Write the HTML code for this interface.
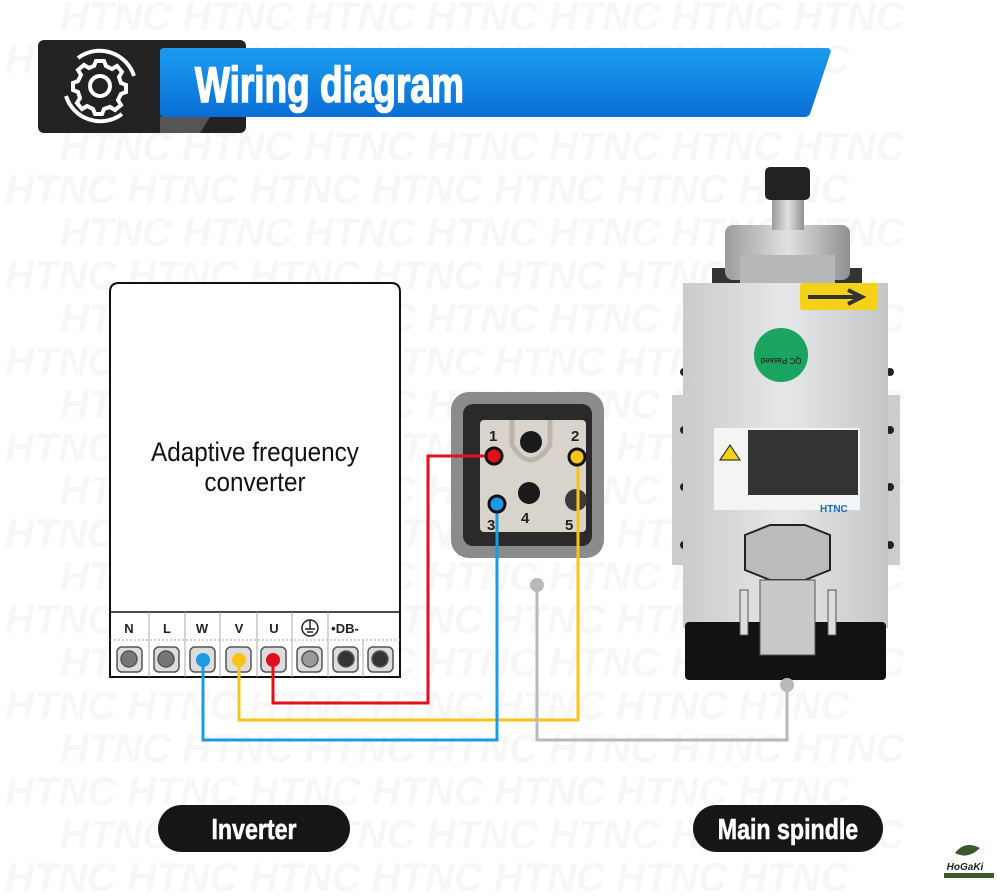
<!DOCTYPE html>
<html><head><meta charset="utf-8"><style>
html,body{margin:0;padding:0;background:#fff;}
svg{display:block;}
</style></head><body>
<svg width="1000" height="896" viewBox="0 0 1000 896" xmlns="http://www.w3.org/2000/svg" font-family="Liberation Sans, sans-serif">
<rect width="1000" height="896" fill="#fff"/>
<!-- watermark -->
<g fill="#f7f7f7" font-size="40" font-weight="bold" font-style="italic">
<text x="60" y="30">HTNC  HTNC  HTNC  HTNC  HTNC  HTNC  HTNC</text>
<text x="5" y="73">HTNC  HTNC  HTNC  HTNC  HTNC  HTNC  HTNC</text>
<text x="60" y="160">HTNC  HTNC  HTNC  HTNC  HTNC  HTNC  HTNC</text>
<text x="5" y="203">HTNC  HTNC  HTNC  HTNC  HTNC  HTNC  HTNC</text>
<text x="60" y="246">HTNC  HTNC  HTNC  HTNC  HTNC  HTNC  HTNC</text>
<text x="5" y="289">HTNC  HTNC  HTNC  HTNC  HTNC  HTNC  HTNC</text>
<text x="60" y="332">HTNC  HTNC  HTNC  HTNC  HTNC  HTNC  HTNC</text>
<text x="5" y="375">HTNC  HTNC  HTNC  HTNC  HTNC  HTNC  HTNC</text>
<text x="60" y="418">HTNC  HTNC  HTNC  HTNC  HTNC  HTNC  HTNC</text>
<text x="5" y="461">HTNC  HTNC  HTNC  HTNC  HTNC  HTNC  HTNC</text>
<text x="60" y="504">HTNC  HTNC  HTNC  HTNC  HTNC  HTNC  HTNC</text>
<text x="5" y="547">HTNC  HTNC  HTNC  HTNC  HTNC  HTNC  HTNC</text>
<text x="60" y="590">HTNC  HTNC  HTNC  HTNC  HTNC  HTNC  HTNC</text>
<text x="5" y="633">HTNC  HTNC  HTNC  HTNC  HTNC  HTNC  HTNC</text>
<text x="60" y="676">HTNC  HTNC  HTNC  HTNC  HTNC  HTNC  HTNC</text>
<text x="5" y="719">HTNC  HTNC  HTNC  HTNC  HTNC  HTNC  HTNC</text>
<text x="60" y="762">HTNC  HTNC  HTNC  HTNC  HTNC  HTNC  HTNC</text>
<text x="5" y="805">HTNC  HTNC  HTNC  HTNC  HTNC  HTNC  HTNC</text>
<text x="60" y="848">HTNC  HTNC  HTNC  HTNC  HTNC  HTNC  HTNC</text>
<text x="5" y="891">HTNC  HTNC  HTNC  HTNC  HTNC  HTNC  HTNC</text>
</g>

<defs>
<linearGradient id="bl" x1="0" y1="0" x2="0" y2="1">
<stop offset="0" stop-color="#1a9cf0"/><stop offset="1" stop-color="#0a6fd6"/></linearGradient>
<linearGradient id="sp" x1="0" y1="0" x2="1" y2="0">
<stop offset="0" stop-color="#c9cbcd"/><stop offset="0.5" stop-color="#e6e7e8"/><stop offset="1" stop-color="#c4c6c8"/></linearGradient>
<linearGradient id="cy" x1="0" y1="0" x2="1" y2="0">
<stop offset="0" stop-color="#9a9c9e"/><stop offset="0.5" stop-color="#e0e1e2"/><stop offset="1" stop-color="#8e9092"/></linearGradient>
</defs>
<!-- header -->
<rect x="38" y="40" width="208" height="93" rx="6" fill="#222"/>
<polygon points="160,117 210,117 200,133 160,133" fill="#555"/>
<path d="M164,48 L828,48 Q832,49 830,54 L810,114 Q808,117 804,117 L164,117 Q160,117 160,113 L160,52 Q160,48 164,48Z" fill="url(#bl)"/>
<text x="195" y="102" fill="#fff" stroke="#fff" stroke-width="1.6" font-size="50" font-weight="bold" transform="translate(195,0) scale(0.74,1) translate(-195,0)">Wiring diagram</text>
<!-- gear icon -->
<g transform="translate(100,86)" fill="none" stroke="#fff" stroke-width="4">
<circle r="10"/>
<path d="M-6,-20 L-4,-25 L4,-25 L6,-20 L12,-17 L17,-20 L22,-14 L19,-9 L21,-3 L26,-1 L26,6 L21,8 L18,14 L21,19 L15,24 L10,21 L4,23 L2,28 L-5,28 L-7,23 L-13,20 L-18,23 L-23,17 L-20,12 L-22,6 L-27,4 L-27,-3 L-22,-5 L-19,-11 L-22,-16 L-16,-21 L-11,-18Z"/>
<path d="M-22,-28 A36,36 0 0 1 34,-10"/><path d="M22,28 A36,36 0 0 1 -34,10"/>
</g>

<!-- inverter -->
<path d="M110,677 L110,292 Q110,283 119,283 L391,283 Q400,283 400,292 L400,677 Z" fill="#fff" stroke="#111" stroke-width="2"/>
<line x1="110" y1="612" x2="400" y2="612" stroke="#111" stroke-width="1.5"/>
<g stroke="#aaa" stroke-width="1">
<line x1="149" y1="612" x2="149" y2="677"/><line x1="185" y1="612" x2="185" y2="677"/>
<line x1="220" y1="612" x2="220" y2="677"/><line x1="257" y1="612" x2="257" y2="677"/>
<line x1="292" y1="612" x2="292" y2="677"/><line x1="328" y1="612" x2="328" y2="677"/>
<line x1="363" y1="640" x2="363" y2="677"/>
<line x1="110" y1="640" x2="400" y2="640" stroke-dasharray="2 2"/>
</g>
<text x="255" y="461" font-size="27" text-anchor="middle" fill="#111" transform="translate(255,0) scale(0.9,1) translate(-255,0)">Adaptive frequency</text>
<text x="255" y="491" font-size="27" text-anchor="middle" fill="#111" transform="translate(255,0) scale(0.9,1) translate(-255,0)">converter</text>
<g font-size="13" font-weight="bold" text-anchor="middle" fill="#222">
<text x="129" y="633">N</text><text x="167" y="633">L</text><text x="202" y="633">W</text>
<text x="239" y="633">V</text><text x="274" y="633">U</text><text x="345" y="633">•DB-</text>
</g>
<g transform="translate(310,628)" fill="none" stroke="#222" stroke-width="1.5"><circle r="8"/><line x1="0" y1="-8" x2="0" y2="1"/><line x1="-5" y1="1" x2="5" y2="1"/><line x1="-3" y1="4" x2="3" y2="4"/></g>
<g stroke="#555" stroke-width="1.5" fill="#aaa">
<g><rect x="117" y="647" width="25" height="25" rx="5" fill="#ddd"/><circle cx="129" cy="659" r="8" fill="#777"/></g>
<g><rect x="154" y="647" width="25" height="25" rx="5" fill="#ddd"/><circle cx="166" cy="659" r="8" fill="#777"/></g>
<g><rect x="190" y="647" width="25" height="25" rx="5" fill="#ddd"/></g>
<g><rect x="226" y="647" width="25" height="25" rx="5" fill="#ddd"/></g>
<g><rect x="261" y="647" width="25" height="25" rx="5" fill="#ddd"/></g>
<g><rect x="297" y="647" width="25" height="25" rx="5" fill="#ddd"/><circle cx="310" cy="659" r="8" fill="#999"/></g>
<g><rect x="333" y="647" width="25" height="25" rx="5" fill="#ddd"/><circle cx="346" cy="659" r="8" fill="#333"/></g>
<g><rect x="368" y="647" width="25" height="25" rx="5" fill="#ddd"/><circle cx="380" cy="659" r="8" fill="#333"/></g>
</g>

<!-- connector -->
<rect x="451" y="392" width="153" height="166" rx="18" fill="#8a8b8d"/>
<rect x="463" y="404" width="129" height="142" rx="10" fill="#2a2a2a"/>
<rect x="480" y="420" width="106" height="112" rx="4" fill="#d8d3cb"/>
<path d="M512,420 L512,445 Q530,475 550,445 L550,420" fill="none" stroke="#bbb6ad" stroke-width="5"/>
<circle cx="531" cy="442" r="11" fill="#1a1a1a"/>
<circle cx="529" cy="493" r="11" fill="#1a1a1a"/>
<circle cx="576" cy="500" r="11" fill="#3a3a3a"/>
<g font-size="15" font-weight="bold" fill="#222">
<text x="489" y="441">1</text><text x="571" y="441">2</text><text x="487" y="530">3</text><text x="521" y="523">4</text><text x="565" y="530">5</text></g>

<!-- wires -->
<g fill="none" stroke-width="3">
<polyline points="273,660 273,703 428,703 428,456 494,456" stroke="#e0101c"/>
<polyline points="239,660 239,720 578,720 578,457" stroke="#f9c31a"/>
<polyline points="203,660 203,740 497,740 497,504" stroke="#1a9be4"/>
<polyline points="537,585 537,740 787,740 787,685" stroke="#b9b9b9"/>
</g>
<circle cx="494" cy="456" r="8" fill="#e0101c" stroke="#111" stroke-width="3"/>
<circle cx="577" cy="457" r="8" fill="#f9c31a" stroke="#111" stroke-width="3"/>
<circle cx="497" cy="504" r="8" fill="#1a9be4" stroke="#111" stroke-width="3"/>
<circle cx="273" cy="660" r="7" fill="#e0101c"/>
<circle cx="239" cy="660" r="7" fill="#f9c31a"/>
<circle cx="203" cy="660" r="7" fill="#1a9be4"/>
<circle cx="537" cy="585" r="7" fill="#b9b9b9"/>

<!-- spindle -->
<rect x="672" y="395" width="20" height="170" fill="#ccc"/>
<rect x="880" y="395" width="20" height="170" fill="#ccc"/>
<g fill="#222"><circle cx="684" cy="372" r="4"/><circle cx="684" cy="430" r="4"/><circle cx="684" cy="487" r="4"/><circle cx="684" cy="545" r="4"/>
<circle cx="890" cy="372" r="4"/><circle cx="890" cy="430" r="4"/><circle cx="890" cy="487" r="4"/><circle cx="890" cy="545" r="4"/></g>
<rect x="712" y="268" width="150" height="20" fill="#333"/>
<rect x="725" y="225" width="125" height="55" rx="8" fill="url(#cy)"/>
<rect x="740" y="255" width="95" height="30" fill="#b5b7b9"/>
<rect x="772" y="195" width="32" height="35" fill="url(#cy)"/>
<rect x="765" y="167" width="45" height="33" rx="5" fill="#222"/>
<rect x="683" y="283" width="205" height="345" fill="url(#sp)"/>
<rect x="685" y="622" width="201" height="58" rx="4" fill="#111"/>
<rect x="800" y="283" width="78" height="27" rx="3" fill="#f3d219"/>
<path d="M808,297 L860,297 M848,290 L862,297 L848,304" stroke="#333" stroke-width="4" fill="none"/>
<circle cx="781" cy="355" r="27" fill="#1ba360"/>
<text x="781" y="352" font-size="8" text-anchor="middle" fill="#111" transform="rotate(180 781 355)">QC Passed</text>
<rect x="714" y="428" width="146" height="82" fill="#f4f4f4"/>
<rect x="748" y="430" width="110" height="65" fill="#333"/>
<polygon points="720,460 740,460 730,445" fill="#f3d219" stroke="#111"/>
<text x="820" y="512" font-size="10" font-weight="bold" fill="#1565c0">HTNC</text>
<polygon points="745,535 770,525 805,525 830,535 830,570 805,580 770,580 745,570" fill="#bbb" stroke="#222" stroke-width="2"/>
<rect x="760" y="580" width="55" height="75" fill="#c9c9c9" stroke="#555"/>
<rect x="740" y="590" width="8" height="45" fill="#ddd" stroke="#555"/>
<rect x="828" y="590" width="8" height="45" fill="#ddd" stroke="#555"/>
<circle cx="787" cy="685" r="7" fill="#b9b9b9"/>

<!-- pills -->
<rect x="158" y="805" width="192" height="47" rx="23.5" fill="#161616"/>
<text x="254" y="839" font-size="29" font-weight="bold" fill="#fff" stroke="#fff" stroke-width="0.6" text-anchor="middle" transform="translate(254,0) scale(0.8,1) translate(-254,0)">Inverter</text>
<rect x="693" y="805" width="190" height="47" rx="23.5" fill="#161616"/>
<text x="788" y="839" font-size="29" font-weight="bold" fill="#fff" stroke="#fff" stroke-width="0.6" text-anchor="middle" transform="translate(788,0) scale(0.8,1) translate(-788,0)">Main spindle</text>

<!-- logo -->
<path d="M955,853 Q965,840 980,848 Q968,860 955,853Z" fill="#3a5a2a"/>
<text x="965" y="870" font-size="10" font-weight="bold" font-style="italic" fill="#222" text-anchor="middle">HoGaKi</text>
<rect x="944" y="873" width="50" height="5" fill="#3a5a2a"/>
</svg>
</body></html>
